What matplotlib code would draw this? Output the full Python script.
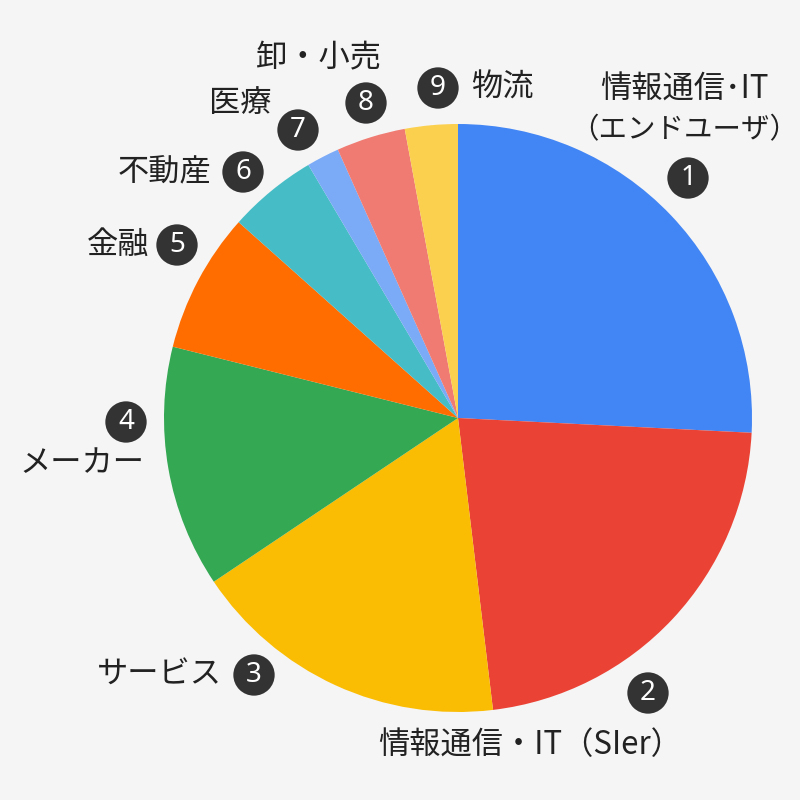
import matplotlib
matplotlib.use('Agg')
import matplotlib.pyplot as plt

plt.rcParams['font.family'] = ['Noto Sans CJK JP', 'DejaVu Sans']

# industry shares (%), clockwise from 12 o'clock
labels = ['情報通信･IT\n（エンドユーザ）', '情報通信・IT（SIer）', 'サービス', 'メーカー',
          '金融', '不動産', '医療', '卸・小売', '物流']
shares = [25.8, 22.3, 17.5, 13.3, 7.7, 4.9, 1.8, 3.8, 2.9]
colors = ['#4285F4', '#EA4335', '#FBBC04', '#34A853', '#FF6D01',
          '#46BDC6', '#7BAAF7', '#F07B72', '#FCD04F']

# label placement in pixels (text centre, number badge centre)
text_pos = [(684, 90), (530, 745), (159, 675), (82, 463), (118, 245),
            (165, 172), (240, 103), (318, 58), (502, 88)]
badge_pos = [(688, 178), (648, 693), (254, 675), (126, 422), (177, 245),
             (243, 172), (298, 130), (366, 103), (438, 88)]
line_gap = 40  # px between the lines of a two-line label

W, H = 800, 800
cx, cy, r = 458, 418, 294


def to_data(px, py):
    return (px - cx) / r, (cy - py) / r


fig = plt.figure(figsize=(8, 8), dpi=100)
fig.patch.set_facecolor('#F5F5F5')
ax = fig.add_axes([0, 0, 1, 1])
ax.set_facecolor('#F5F5F5')

ax.pie(shares, colors=colors, startangle=90, counterclock=False,
       radius=1, center=(0, 0), wedgeprops=dict(linewidth=0))

ax.set_xlim(-cx / r, (W - cx) / r)
ax.set_ylim(-(H - cy) / r, cy / r)
ax.set_aspect('equal')
ax.axis('off')

for i, lab in enumerate(labels):
    px, py = text_pos[i]
    for j, line in enumerate(lab.split('\n')):
        tx, ty = to_data(px, py + j * line_gap)
        ax.text(tx, ty, line, fontsize=22.5 if j == 0 else 20.5, color='#222222',
                ha='center', va='center')
    bx, by = to_data(*badge_pos[i])
    ax.text(bx, by, str(i + 1), fontsize=20, color='white', ha='center', va='center',
            family=['Noto Sans', 'DejaVu Sans'],
            bbox=dict(boxstyle='circle,pad=0.24', fc='#333333', ec='none'))

fig.savefig('out.png', dpi=100, facecolor=fig.get_facecolor())
